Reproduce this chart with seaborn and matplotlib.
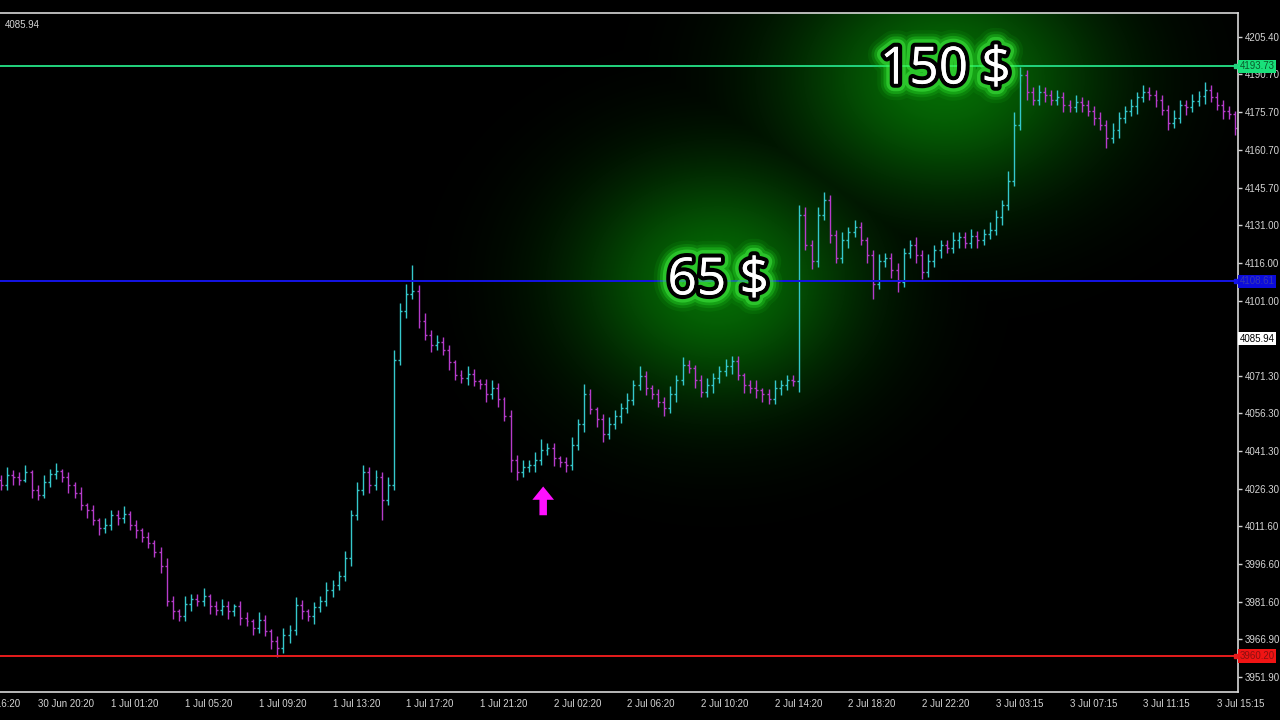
import numpy as np
import pandas as pd
import matplotlib
matplotlib.use('Agg')
import matplotlib.pyplot as plt
import matplotlib.patheffects as pe
import seaborn as sns

# 20 minute bars, index -6 .. 195 (index 0 = 30 Jun 20:20)
first_open = 4030.0
closes = [
    4028, 4032, 4031, 4030, 4033, 4026, 4024, 4029, 4032.5, 4033.5,
    4031, 4028, 4025, 4020, 4018, 4014, 4011, 4012, 4016, 4015,
    4016.5, 4012, 4010, 4007.5, 4005, 4001.5, 3996, 3982, 3978, 3976,
    3981, 3983, 3982, 3984, 3980, 3978.5, 3980, 3978, 3980, 3975.5,
    3974, 3971.5, 3974.5, 3970, 3966, 3963.5, 3968.5, 3970.5, 3980.5, 3978,
    3976, 3979.5, 3982, 3986.5, 3988.5, 3992, 3999, 4016, 4026, 4033,
    4028, 4031, 4022, 4028, 4077.5, 4097, 4103.5, 4105, 4093, 4087.5,
    4083.5, 4084.5, 4081.5, 4076.5, 4071.5, 4070.5, 4072, 4069, 4068, 4064,
    4066.5, 4062, 4055.5, 4038, 4033, 4035, 4036, 4038, 4042, 4042.5,
    4038.5, 4037, 4036, 4044, 4052, 4064, 4058, 4054, 4048, 4052,
    4055.5, 4058.5, 4061.5, 4067.5, 4071, 4066.5, 4064, 4061, 4058.5, 4064,
    4069.5, 4075.5, 4074.5, 4069.5, 4065, 4067.5, 4070.5, 4073, 4075, 4077,
    4071.5, 4067.5, 4066.5, 4065.5, 4064, 4062, 4066.5, 4067.5, 4069.5, 4069,
    4135, 4123, 4116.5, 4135, 4141, 4127, 4118, 4125, 4128, 4130,
    4125, 4119, 4107.5, 4116.5, 4118, 4113, 4108.5, 4120, 4123, 4119,
    4112.5, 4116.5, 4121, 4123, 4122, 4125, 4126, 4124, 4126.5, 4125,
    4127.5, 4129, 4134, 4139, 4148.5, 4170.5, 4190.5, 4183.5, 4180.5, 4183.5,
    4182.5, 4180.5, 4181.5, 4178.5, 4177.5, 4179.5, 4178.5, 4176, 4173.5, 4170.5,
    4165.5, 4168.5, 4173.5, 4176, 4178, 4181.5, 4183.5, 4182.5, 4180.5, 4176.5,
    4171.5, 4173.5, 4178.5, 4177.5, 4180, 4182, 4184.5, 4181.5, 4178.5, 4176,
    4175, 4169.5,
]
upper_wick = [
    2, 3, 2, 2, 3, 1, 2, 3, 2, 3,
    1, 2, 1, 2, 1, 2, 1, 3, 2, 2,
    3, 1, 2, 1, 2, 1, 2, 3, 2, 1,
    3, 2, 2, 3, 1, 2, 3, 2, 1, 2,
    2, 1, 3, 2, 1, 2, 3, 2, 3, 2,
    1, 2, 2, 3, 2, 2, 3, 2, 3, 3,
    2, 3, 2, 3, 4, 3, 4, 10, 2, 3,
    2, 3, 2, 2, 1, 2, 3, 2, 1, 2,
    3, 2, 1, 2, 2, 3, 2, 3, 4, 2,
    2, 1, 2, 3, 2, 4, 2, 1, 2, 3,
    2, 2, 3, 2, 4, 2, 1, 2, 2, 3,
    2, 3, 2, 1, 2, 3, 2, 2, 3, 2,
    2, 1, 2, 3, 1, 2, 3, 2, 2, 2,
    4, 3, 2, 3, 3, 2, 2, 3, 2, 3,
    2, 1, 2, 3, 2, 2, 3, 2, 2, 3,
    2, 3, 2, 2, 2, 3, 2, 2, 3, 2,
    2, 3, 3, 2, 4, 5, 3, 2, 2, 3,
    2, 2, 3, 2, 2, 3, 2, 2, 2, 2,
    2, 3, 2, 2, 3, 2, 3, 2, 2, 2,
    2, 3, 2, 2, 3, 2, 3, 2, 2, 2,
    2, 1,
]
lower_wick = [
    2, 2, 3, 2, 1, 3, 2, 1, 2, 2,
    2, 3, 2, 2, 3, 2, 3, 2, 2, 3,
    2, 2, 3, 2, 2, 2, 3, 2, 3, 2,
    2, 3, 2, 2, 3, 2, 2, 3, 2, 3,
    2, 3, 2, 2, 3, 3.5, 2, 3, 2, 3,
    2, 3, 2, 2, 3, 2, 2, 3, 2, 2,
    3, 2, 8, 2, 2, 2, 3, 2, 3, 2,
    3, 2, 2, 3, 2, 2, 3, 2, 2, 3,
    2, 3, 2, 5, 3, 2, 2, 3, 2, 2,
    3, 2, 3, 2, 2, 3, 2, 3, 3, 2,
    2, 3, 2, 2, 2, 3, 2, 2, 3, 2,
    3, 2, 2, 3, 2, 2, 3, 2, 2, 3,
    2, 3, 2, 3, 3, 2, 2, 3, 2, 2,
    4, 2, 3, 2, 2, 3, 2, 2, 3, 2,
    2, 3, 6, 2, 2, 3, 4, 2, 2, 3,
    3, 2, 2, 3, 2, 2, 3, 2, 2, 3,
    2, 2, 2, 3, 2, 2, 2, 3, 2, 2,
    3, 2, 2, 3, 2, 2, 3, 2, 3, 2,
    4, 2, 3, 2, 2, 3, 2, 2, 3, 2,
    3, 2, 2, 3, 2, 2, 3, 2, 2, 3,
    2, 3,
]

x_tick_pos = [-12, 0, 12, 24, 36, 48, 60, 72, 84, 96, 108, 120, 132, 144, 156, 168, 180, 192]
x_tick_labels = ['30 Jun 16:20', '30 Jun 20:20', '1 Jul 01:20', '1 Jul 05:20', '1 Jul 09:20',
                 '1 Jul 13:20', '1 Jul 17:20', '1 Jul 21:20', '2 Jul 02:20', '2 Jul 06:20',
                 '2 Jul 10:20', '2 Jul 14:20', '2 Jul 18:20', '2 Jul 22:20', '3 Jul 03:15',
                 '3 Jul 07:15', '3 Jul 11:15', '3 Jul 15:15']
y_tick_vals = [4205.40, 4190.70, 4175.70, 4160.70, 4145.70, 4131.00, 4116.00, 4101.00,
               4071.30, 4056.30, 4041.30, 4026.30, 4011.60, 3996.60, 3981.60, 3966.90, 3951.90]
y_tick_labels = ['%.2f' % v for v in y_tick_vals]

take_profit = 4193.73
entry_level = 4108.61
stop_loss = 3960.20
current_price = 4085.94
profit_labels = ['150 $', '65 $']

# build OHLC table
df = pd.DataFrame({'idx': np.arange(-6, -6 + len(closes)), 'close': closes,
                   'uw': upper_wick, 'lw': lower_wick})
df['open'] = [first_open] + closes[:-1]
df['high'] = df[['open', 'close']].max(axis=1) + df['uw']
df['low'] = df[['open', 'close']].min(axis=1) - df['lw']
df['color'] = np.where(df['close'] >= df['open'], '#35c8cc', '#b63ccb')

sns.set_theme(style='dark', rc={'axes.facecolor': 'black', 'figure.facecolor': 'black',
                                'axes.grid': False})
plt.rcParams['font.family'] = ['Liberation Sans', 'DejaVu Sans']

fig = plt.figure(figsize=(12.8, 7.2), dpi=100)
ax = fig.add_axes([0, 28 / 720, 1238 / 1280, 679 / 720])
xlim = (-6.14, 195.43)
ylim = (3946.0, 4214.9)

# green glow behind the profit labels (pixel space of the axes)
gx = np.linspace(0, 1238, 620)
gy = np.linspace(13, 692, 340)
GX, GY = np.meshgrid(gx, gy)
g1 = np.exp(-(((GX - 945) / 165) ** 2 + ((GY - 78) / 125) ** 2))
g2 = np.exp(-(((GX - 718) / 150) ** 2 + ((GY - 282) / 125) ** 2))
g = np.maximum(g1, g2)
glow = np.zeros(g.shape + (4,))
glow[..., 0] = 0.03
glow[..., 1] = 0.64
glow[..., 2] = 0.03
glow[..., 3] = np.clip(0.66 * g ** 1.15, 0, 1)
ax.imshow(glow, extent=(xlim[0], xlim[1], ylim[0], ylim[1]), origin='upper',
          aspect='auto', zorder=0, interpolation='bilinear')

# OHLC bars
ax.vlines(df['idx'], df['low'], df['high'], colors=df['color'], lw=1.0, zorder=2)
ax.hlines(df['open'], df['idx'] - 0.32, df['idx'], colors=df['color'], lw=1.0, zorder=2)
ax.hlines(df['close'], df['idx'], df['idx'] + 0.32, colors=df['color'], lw=1.0, zorder=2)

# level lines
level_style = [(take_profit, '#22d47e', '#19e07a', '#0b5a2c'),
               (entry_level, '#1414e6', '#0c0cdc', '#3a3ab0'),
               (stop_loss, '#e81c1c', '#f01414', '#8a1010')]
for val, lc, bg, tc in level_style:
    ax.axhline(val, color=lc, lw=1.4, zorder=3)
    ax.plot([xlim[1] - 0.35], [val], marker='s', ms=3, color=lc, zorder=3, clip_on=False)
    ax.text(1.0012, val, '%.2f' % val, transform=ax.get_yaxis_transform(), ha='left',
            va='center', fontsize=7, color=tc, zorder=6, clip_on=False,
            bbox=dict(boxstyle='square,pad=0.18', fc=bg, ec='none'))
ax.text(1.0012, current_price, '%.2f' % current_price, transform=ax.get_yaxis_transform(),
        ha='left', va='center', fontsize=7, color='black', zorder=6, clip_on=False,
        bbox=dict(boxstyle='square,pad=0.18', fc='white', ec='none'))

# profit texts with soft halo
glow_fx = [pe.withStroke(linewidth=24, foreground=(0.1, 0.8, 0.1, 0.10)),
           pe.withStroke(linewidth=19, foreground=(0.15, 0.9, 0.15, 0.16)),
           pe.withStroke(linewidth=15, foreground=(0.2, 1.0, 0.2, 0.25)),
           pe.withStroke(linewidth=11, foreground=(0.3, 1.0, 0.3, 0.4)),
           pe.withStroke(linewidth=6, foreground='black'), pe.Normal()]
ax.text(147.8, 4192.3, profit_labels[0], ha='center', va='center', fontsize=37,
        fontweight='medium', family='Open Sans', color='white', zorder=7, path_effects=glow_fx)
ax.text(110.8, 4108.8, profit_labels[1], ha='center', va='center', fontsize=37,
        fontweight='medium', family='Open Sans', color='white', zorder=7, path_effects=glow_fx)

# entry arrow
ax.annotate('', xy=(82.3, 4027.4), xytext=(82.3, 4016.0), zorder=6,
            arrowprops=dict(arrowstyle='simple,head_length=0.8,head_width=1.3,tail_width=0.45',
                            color='#ff10ff', lw=0, shrinkA=0, shrinkB=0))

# axes styling like the terminal
ax.set_xticks(x_tick_pos[1:], x_tick_labels[1:])
ax.set_yticks(y_tick_vals, y_tick_labels)
ax.set_xlim(xlim)
ax.set_ylim(ylim)
ax.yaxis.tick_right()
for lab in ax.get_xticklabels():
    lab.set_horizontalalignment('left')
ax.tick_params(axis='x', colors='#d4d4d4', labelsize=7, length=3, width=1, pad=2, direction='out')
ax.tick_params(axis='y', colors='#d4d4d4', labelsize=7, length=3, width=1, pad=2, direction='out')
# first date label sits left of the visible window and is cut by the edge
ax.annotate(x_tick_labels[0], xy=(x_tick_pos[0], 0), xycoords=ax.get_xaxis_transform(),
            xytext=(0, -5), textcoords='offset points', ha='left', va='top',
            fontsize=7, color='#d4d4d4', annotation_clip=False)
for side in ['top', 'right', 'bottom']:
    ax.spines[side].set_color('#d8d8d8')
    ax.spines[side].set_linewidth(1.2)
ax.spines['left'].set_visible(False)
ax.set_xlabel('')
ax.set_ylabel('')
ax.text(0.004, 0.99, '4085.94', transform=ax.transAxes, ha='left', va='top',
        fontsize=7, color='#d4d4d4')

fig.savefig('out.png', dpi=100, facecolor='black')
